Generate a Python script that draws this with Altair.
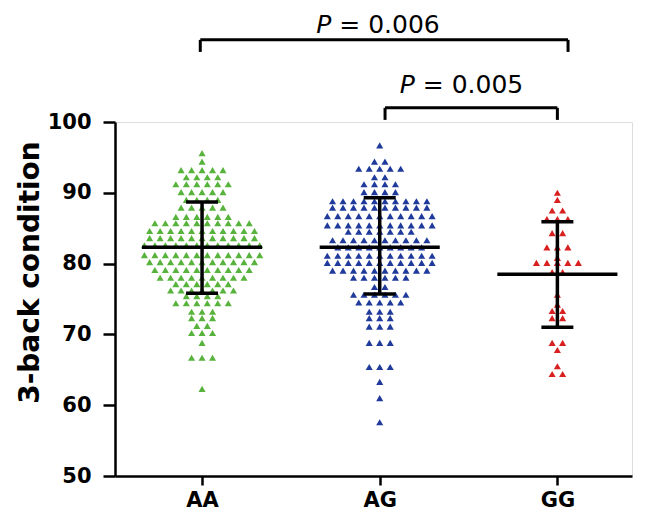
import altair as alt
import pandas as pd

groups = ["AA", "AG", "GG"]
colors = ["#57b33c", "#1f3a9b", "#d7201f"]

aa_values = [
    95.6, 94.4,
    93.2, 93.2, 93.2, 93.2, 93.2,
    92.2, 92.2, 92.2, 92.2,
    91.2, 91.2, 91.2, 91.2, 91.2, 91.2,
    90.1, 90.1, 90.1, 90.1, 90.1,
    89.0, 89.0, 89.0, 89.0,
    87.9, 87.9, 87.9, 87.9, 87.9,
    86.6, 86.6, 86.6, 86.6, 86.6, 86.6,
    85.7, 85.7, 85.7, 85.7, 85.7, 85.7, 85.7, 85.7, 85.7, 85.7,
    84.6, 84.6, 84.6, 84.6, 84.6, 84.6, 84.6, 84.6, 84.6, 84.6, 84.6,
    83.6, 83.6, 83.6, 83.6, 83.6, 83.6, 83.6, 83.6, 83.6, 83.6, 83.6,
    82.6, 82.6, 82.6, 82.6, 82.6, 82.6, 82.6, 82.6, 82.6, 82.6, 82.6, 82.6,
    81.2, 81.2, 81.2, 81.2, 81.2, 81.2, 81.2, 81.2, 81.2, 81.2, 81.2, 81.2,
    80.2, 80.2, 80.2, 80.2, 80.2, 80.2, 80.2, 80.2, 80.2, 80.2, 80.2,
    79.1, 79.1, 79.1, 79.1, 79.1, 79.1, 79.1, 79.1, 79.1, 79.1,
    78.0, 78.0, 78.0, 78.0, 78.0, 78.0, 78.0, 78.0, 78.0,
    77.1, 77.1, 77.1, 77.1, 77.1, 77.1,
    76.2, 76.2, 76.2, 76.2, 76.2, 76.2, 76.2,
    75.4, 75.4, 75.4, 75.4,
    74.4, 74.4, 74.4, 74.4, 74.4, 74.4,
    73.2, 73.2, 73.2,
    72.3, 72.3, 72.3,
    71.2, 71.2,
    70.2, 70.2, 70.2,
    68.8,
    66.7, 66.7, 66.7,
    62.3,
]

ag_values = [
    96.7,
    94.4, 94.4,
    93.4, 93.4, 93.4, 93.4, 93.4,
    92.2, 92.2,
    91.2, 91.2, 91.2, 91.2,
    90.1, 90.1, 90.1, 90.1,
    88.8, 88.8, 88.8, 88.8, 88.8, 88.8, 88.8, 88.8, 88.8, 88.8,
    87.9, 87.9, 87.9, 87.9, 87.9, 87.9, 87.9, 87.9, 87.9, 87.9,
    86.7, 86.7, 86.7, 86.7, 86.7, 86.7, 86.7, 86.7, 86.7, 86.7, 86.7,
    85.4, 85.4, 85.4, 85.4, 85.4, 85.4, 85.4, 85.4, 85.4, 85.4, 85.4,
    84.5, 84.5, 84.5, 84.5, 84.5, 84.5, 84.5,
    83.3, 83.3, 83.3, 83.3, 83.3, 83.3, 83.3, 83.3, 83.3, 83.3,
    82.3, 82.3, 82.3, 82.3, 82.3, 82.3, 82.3, 82.3, 82.3,
    81.1, 81.1, 81.1, 81.1, 81.1, 81.1, 81.1, 81.1, 81.1, 81.1, 81.1,
    80.1, 80.1, 80.1, 80.1, 80.1, 80.1, 80.1, 80.1, 80.1, 80.1, 80.1,
    79.0, 79.0, 79.0, 79.0, 79.0, 79.0, 79.0, 79.0, 79.0, 79.0,
    78.0, 78.0, 78.0, 78.0, 78.0, 78.0,
    76.7, 76.7,
    75.6, 75.6, 75.6, 75.6, 75.6, 75.6,
    74.5, 74.5, 74.5, 74.5, 74.5,
    73.2, 73.2, 73.2,
    72.3, 72.3, 72.3,
    71.1, 71.1, 71.1,
    68.8, 68.8, 68.8,
    65.4, 65.4, 65.4,
    63.3,
    61.0,
    57.6,
]

gg_values = [
    90.0, 89.0,
    87.5, 87.5,
    86.3, 86.3, 86.3,
    84.3, 84.3,
    82.3, 82.3, 82.3,
    80.8,
    80.1, 80.1, 80.1, 80.1, 80.1,
    78.8, 78.8,
    75.6,
    74.2,
    73.3, 73.3,
    72.3, 72.3,
    68.8, 68.8,
    67.8,
    65.5,
    64.4, 64.4,
]

means = [82.3, 82.3, 78.5]
sd_low = [75.8, 75.7, 71.0]
sd_high = [88.7, 89.3, 85.9]

# significance annotations
bracket_x1 = [-0.01, 1.03]
bracket_x2 = [2.06, 2.00]
bracket_y = [111.6, 102.0]
bracket_drop = [109.9, 100.3]
p_values = ["= 0.006", "= 0.005"]
p_anchor_x = [0.75, 1.22]
p_text_y = [112.6, 104.1]

# ---- build tables ----
SPACING = 0.059  # horizontal spacing of stacked symbols (category units)
rows = []
for gi, (g, vals) in enumerate(zip(groups, [aa_values, ag_values, gg_values])):
    for v in vals:
        rows.append({"group": g, "gi": gi, "v": v})
pts = pd.DataFrame(rows)
pts["k"] = pts.groupby(["group", "v"]).cumcount()
pts["n"] = pts.groupby(["group", "v"])["v"].transform("count")
pts["xpos"] = pts["gi"] + (pts["k"] - (pts["n"] - 1) / 2) * SPACING

summ = pd.DataFrame({"group": groups, "gi": list(range(3)), "mean": means,
                     "lo": sd_low, "hi": sd_high})
summ["m1"] = summ["gi"] - 0.338
summ["m2"] = summ["gi"] + 0.338
summ["c1"] = summ["gi"] - 0.09
summ["c2"] = summ["gi"] + 0.09

br = pd.DataFrame({"x1": bracket_x1, "x2": bracket_x2, "y": bracket_y,
                   "yd": bracket_drop})
ann = pd.DataFrame({"x": p_anchor_x, "y": p_text_y, "txt": p_values})

FONT = "DejaVu Sans"
xscale = alt.Scale(domain=[-0.49, 2.42], nice=False, zero=False)
yscale = alt.Scale(domain=[50, 100], nice=False, zero=False)
label_expr = "[" + ",".join("'%s'" % g for g in groups) + "][datum.value]"

points = alt.Chart(pts).mark_point(shape="triangle-up", filled=True, size=50,
                                   opacity=1).encode(
    x=alt.X("xpos:Q", scale=xscale,
            axis=alt.Axis(values=[0, 1, 2], labelExpr=label_expr, title=None,
                          grid=False, domainColor="black", domainWidth=2.5,
                          tickColor="black", tickWidth=2.5, tickSize=9,
                          labelFont=FONT, labelFontSize=21, labelFontWeight="bold",
                          labelColor="black", labelPadding=4)),
    y=alt.Y("v:Q", scale=yscale,
            axis=alt.Axis(values=[50, 60, 70, 80, 90, 100], title="3-back condition",
                          grid=False, domainColor="black", domainWidth=2.5,
                          tickColor="black", tickWidth=2.5, tickSize=12,
                          labelFont=FONT, labelFontSize=21, labelFontWeight="bold",
                          labelColor="black", labelPadding=12,
                          titleFont=FONT, titleFontSize=28, titleFontWeight="bold",
                          titleColor="black", titlePadding=3, titleY=150)),
    color=alt.Color("group:N", scale=alt.Scale(domain=groups, range=colors), legend=None),
)

mean_line = alt.Chart(summ).mark_rule(color="black", strokeWidth=3.5).encode(
    x=alt.X("m1:Q", scale=xscale), x2="m2:Q", y=alt.Y("mean:Q", scale=yscale))
vbar = alt.Chart(summ).mark_rule(color="black", strokeWidth=3.5).encode(
    x=alt.X("gi:Q", scale=xscale), y=alt.Y("lo:Q", scale=yscale), y2="hi:Q")
cap_hi = alt.Chart(summ).mark_rule(color="black", strokeWidth=3.5).encode(
    x=alt.X("c1:Q", scale=xscale), x2="c2:Q", y=alt.Y("hi:Q", scale=yscale))
cap_lo = alt.Chart(summ).mark_rule(color="black", strokeWidth=3.5).encode(
    x=alt.X("c1:Q", scale=xscale), x2="c2:Q", y=alt.Y("lo:Q", scale=yscale))

br_h = alt.Chart(br).mark_rule(color="black", strokeWidth=3).encode(
    x=alt.X("x1:Q", scale=xscale), x2="x2:Q", y=alt.Y("y:Q", scale=yscale))
br_l = alt.Chart(br).mark_rule(color="black", strokeWidth=3).encode(
    x=alt.X("x1:Q", scale=xscale), y=alt.Y("y:Q", scale=yscale), y2="yd:Q")
br_r = alt.Chart(br).mark_rule(color="black", strokeWidth=3).encode(
    x=alt.X("x2:Q", scale=xscale), y=alt.Y("y:Q", scale=yscale), y2="yd:Q")

p_italic = alt.Chart(ann).mark_text(text="P", font=FONT, fontSize=25, fontStyle="italic",
                                    align="right", baseline="alphabetic", dx=-4,
                                    color="black").encode(
    x=alt.X("x:Q", scale=xscale), y=alt.Y("y:Q", scale=yscale))
p_rest = alt.Chart(ann).mark_text(font=FONT, fontSize=25, align="left",
                                  baseline="alphabetic", dx=4, color="black").encode(
    x=alt.X("x:Q", scale=xscale), y=alt.Y("y:Q", scale=yscale), text="txt:N")

chart = alt.layer(points, mean_line, vbar, cap_hi, cap_lo, br_h, br_l, br_r,
                  p_italic, p_rest).properties(
    width=517, height=354,
    padding={"left": 107, "top": 114, "right": 7, "bottom": 36},
    autosize="none",
).configure_view(stroke=None).configure(background="white")

chart.save("out.html", embed_options={"renderer": "svg", "actions": False})
